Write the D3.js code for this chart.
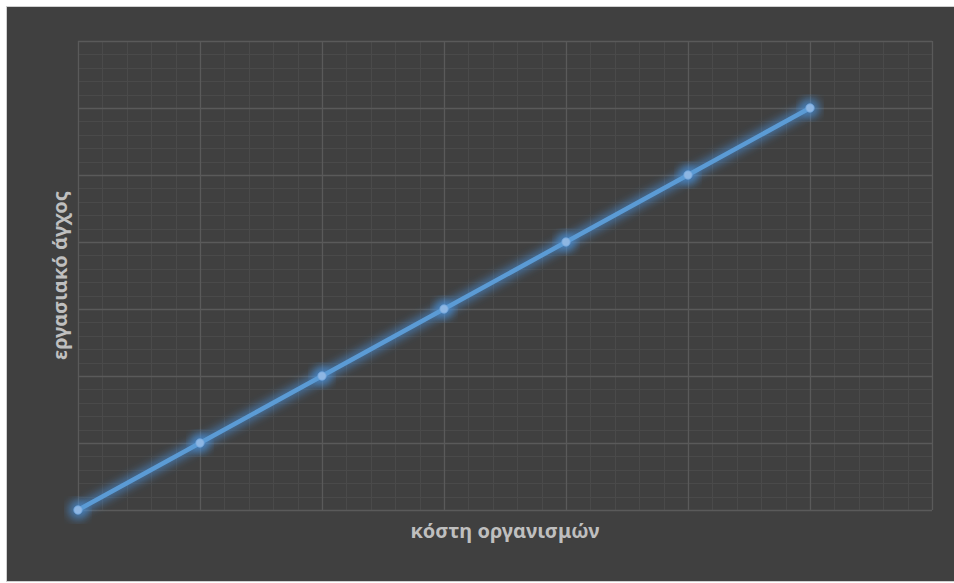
<!DOCTYPE html>
<html>
<head>
<meta charset="utf-8">
<script src="https://cdn.jsdelivr.net/npm/d3@7"></script>
<style>
html,body{margin:0;padding:0;background:#fff;}
svg{display:block;}
</style>
</head>
<body>
<script>
const xValues = [0, 1, 2, 3, 4, 5, 6];
const yValues = [0, 1, 2, 3, 4, 5, 6];
const xTitle = "κόστη οργανισμών";
const yTitle = "εργασιακό άγχος";

const W = 954, H = 583;
const svg = d3.select("body").append("svg").attr("width", W).attr("height", H);

const defs = svg.append("defs");
const f = defs.append("filter").attr("id", "glow").attr("x", "-20%").attr("y", "-20%").attr("width", "140%").attr("height", "140%");
f.append("feGaussianBlur").attr("stdDeviation", 4.5);

// chart background frame
svg.append("rect").attr("x", 6.5).attr("y", 6.5).attr("width", W).attr("height", 575)
  .attr("fill", "#404040").attr("stroke", "#d0d0d0").attr("stroke-width", 1);

const m = {left: 78, top: 41, right: 932, bottom: 510};
const x = d3.scaleLinear().domain([0, 7]).range([m.left, m.right]);
const y = d3.scaleLinear().domain([0, 7]).range([m.bottom, m.top]);

const g = svg.append("g");
// minor grid
const minorX = d3.range(0, 7.0001, 0.2);
const minorY = d3.range(0, 7.0001, 0.2);
g.selectAll(".mx").data(minorX).enter().append("line")
  .attr("x1", d => Math.round(x(d)) + 0.5).attr("x2", d => Math.round(x(d)) + 0.5)
  .attr("y1", m.top).attr("y2", m.bottom).attr("stroke", "#4a4a4a").attr("stroke-width", 1);
g.selectAll(".my").data(minorY).enter().append("line")
  .attr("y1", d => Math.round(y(d)) + 0.5).attr("y2", d => Math.round(y(d)) + 0.5)
  .attr("x1", m.left).attr("x2", m.right).attr("stroke", "#4a4a4a").attr("stroke-width", 1);
// major grid
const major = d3.range(0, 8);
g.selectAll(".Mx").data(major).enter().append("line")
  .attr("x1", d => Math.round(x(d)) + 0.5).attr("x2", d => Math.round(x(d)) + 0.5)
  .attr("y1", m.top).attr("y2", m.bottom).attr("stroke", "#5a5a5a").attr("stroke-width", 1.3);
g.selectAll(".My").data(major).enter().append("line")
  .attr("y1", d => Math.round(y(d)) + 0.5).attr("y2", d => Math.round(y(d)) + 0.5)
  .attr("x1", m.left).attr("x2", m.right).attr("stroke", "#5a5a5a").attr("stroke-width", 1.3);

const pts = xValues.map((v, i) => [v, yValues[i]]);
const line = d3.line().x(d => x(d[0])).y(d => y(d[1]));

// glow
svg.append("path").datum(pts).attr("d", line).attr("fill", "none")
  .attr("stroke", "#4a90d9").attr("stroke-width", 11).attr("stroke-opacity", 0.6)
  .attr("filter", "url(#glow)");
svg.append("g").selectAll("circle").data(pts).enter().append("circle")
  .attr("cx", d => x(d[0])).attr("cy", d => y(d[1])).attr("r", 10)
  .attr("fill", "#4a90d9").attr("fill-opacity", 0.65).attr("filter", "url(#glow)");

svg.append("path").datum(pts).attr("d", line).attr("fill", "none")
  .attr("stroke", "#5B9BD5").attr("stroke-width", 4.5).attr("stroke-linecap", "round");
svg.append("g").selectAll("circle").data(pts).enter().append("circle")
  .attr("cx", d => x(d[0])).attr("cy", d => y(d[1])).attr("r", 4.2)
  .attr("fill", "#8db6e3").attr("stroke", "#6fa3da").attr("stroke-width", 0.8);

// titles
svg.append("text").attr("x", (m.left + m.right) / 2).attr("y", 538)
  .attr("text-anchor", "middle").attr("fill", "#bfbfbf")
  .attr("font-family", "'Noto Sans', 'Open Sans', sans-serif").attr("font-weight", "bold")
  .attr("font-size", 20).text(xTitle);
svg.append("text").attr("transform", `translate(67,${(m.top + m.bottom) / 2}) rotate(-90)`)
  .attr("text-anchor", "middle").attr("fill", "#bfbfbf")
  .attr("font-family", "'Noto Sans', 'Open Sans', sans-serif").attr("font-weight", "bold")
  .attr("font-size", 20).text(yTitle);
</script>
</body>
</html>
